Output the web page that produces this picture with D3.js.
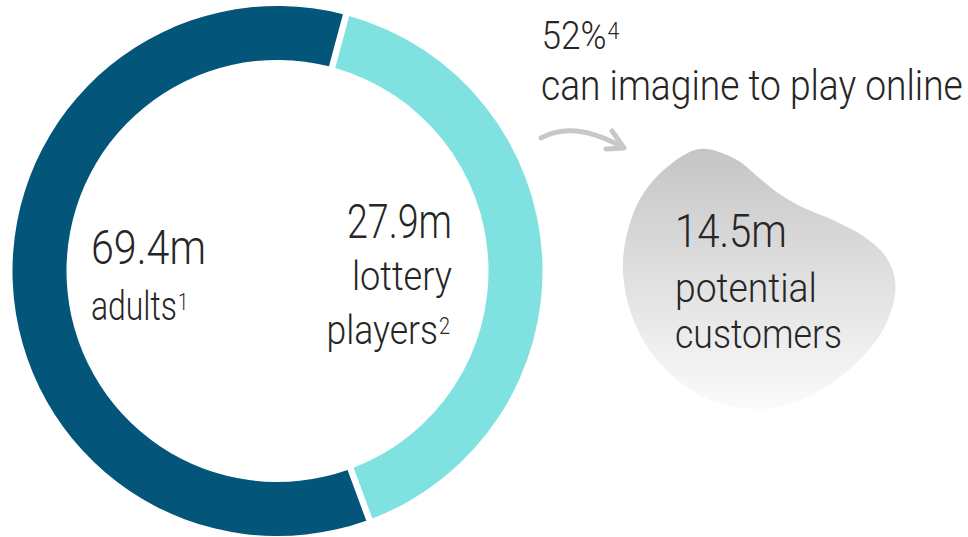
<!DOCTYPE html>
<html>
<head>
<meta charset="utf-8">
<script src="https://cdn.jsdelivr.net/npm/d3@7"></script>
<style>
  html, body { margin: 0; padding: 0; background: #ffffff; }
  svg { display: block; }
  text { font-family: Roboto, "Open Sans", sans-serif; font-weight: 300; fill: #262626; }
</style>
</head>
<body>
<svg id="chart" width="968" height="537"></svg>
<script>
// Population funnel: adults -> lottery players -> potential online customers
const totalAdults = 69.4;          // million
const lotteryPlayers = 27.9;       // million
const onlineShare = 52;            // percent
const potentialCustomers = 14.5;   // million

const ringNames = ["lottery players", "other adults"];
const ringValues = [lotteryPlayers, +(totalAdults - lotteryPlayers).toFixed(1)];
const ringColors = ["#7fe1e0", "#03567a"];

const svg = d3.select("#chart");

// ---- donut ----
const cx = 277.5, cy = 271, outerR = 265, innerR = 211;
const pie = d3.pie()
  .sort(null)
  .value(d => d)
  .startAngle(15 * Math.PI / 180)
  .endAngle(375 * Math.PI / 180);

const arc = d3.arc()
  .innerRadius(innerR)
  .outerRadius(outerR)
  .padRadius(outerR)
  .padAngle(6.5 / outerR);

const ring = svg.append("g").attr("transform", `translate(${cx},${cy})`);
ring.selectAll("path")
  .data(pie(ringValues))
  .join("path")
  .attr("d", arc)
  .attr("fill", (d, i) => ringColors[i])
  .append("title").text((d, i) => ringNames[i]);

// ---- label helper ----
// The typeface is a condensed light sans: the text is set so that its natural
// width equals `width`, then scaled vertically back to the height of `size`.
function label(x, y, str, size, width, sup) {
  const t = svg.append("text")
    .attr("font-size", size);
  const main = t.append("tspan").text(str);
  const natural = main.node().getComputedTextLength();
  const k = width / natural;                 // < 1 for a condensed look
  t.attr("font-size", size * k)
   .attr("transform", `translate(${x},${y}) scale(1,${1 / k})`);
  if (sup) {
    t.append("tspan")
      .attr("dx", 1)
      .attr("dy", -10 * k)
      .attr("font-size", 23 * k)
      .text(sup);
  }
}

const fmtM = v => d3.format(".1f")(v) + "m";

// ---- blob with vertical grey gradient ----
const defs = svg.append("defs");
const grad = defs.append("linearGradient")
  .attr("id", "blobFill")
  .attr("x1", 0).attr("y1", 0).attr("x2", 0).attr("y2", 1);
grad.append("stop").attr("offset", "0%").attr("stop-color", "#c5c5c5");
grad.append("stop").attr("offset", "100%").attr("stop-color", "#fbfbfb");

const blobOutline = [
  [700, 149], [737, 160], [758, 177], [778, 193], [802, 207], [835, 221],
  [866, 238], [886, 257], [895, 280], [893, 305], [878, 338], [845, 373],
  [808, 397], [773, 408], [740, 408], [708, 399], [677, 380], [648, 348],
  [630, 310], [623, 272], [626, 238], [640, 199], [666, 168]
];
svg.append("path")
  .attr("d", d3.line().curve(d3.curveCatmullRomClosed.alpha(0.5))(blobOutline))
  .attr("fill", "url(#blobFill)");

// left label inside the ring
label(91, 264, fmtM(totalAdults), 48, 115);
label(91, 320, "adults", 40, 86, "1");

// right label inside the ring (right-aligned at x = 452)
label(452 - 105, 238, fmtM(lotteryPlayers), 48, 105);
label(452 - 100, 290, "lottery", 41, 100);
label(326.5, 344, "players", 41, 111.5, "2");

// share that can imagine playing online
label(541.5, 49, onlineShare + "%", 38, 65, "4");
label(541, 100, "can imagine to play online", 42, 422);

// ---- curved arrow ----
const arrow = svg.append("g")
  .attr("fill", "none")
  .attr("stroke", "#c8c8c8")
  .attr("stroke-width", 5)
  .attr("stroke-linecap", "round")
  .attr("stroke-linejoin", "round");
const arrowPath = d3.path();
arrowPath.moveTo(541, 138);
arrowPath.quadraticCurveTo(574, 120, 622, 147);
arrow.append("path").attr("d", arrowPath.toString());
arrow.append("path").attr("d", "M612,131L624,148L606,149");

// label inside the blob
label(675, 247, fmtM(potentialCustomers), 47, 112);
label(675, 302, "potential", 41, 142);
label(675, 348, "customers", 41, 167);
</script>
</body>
</html>
